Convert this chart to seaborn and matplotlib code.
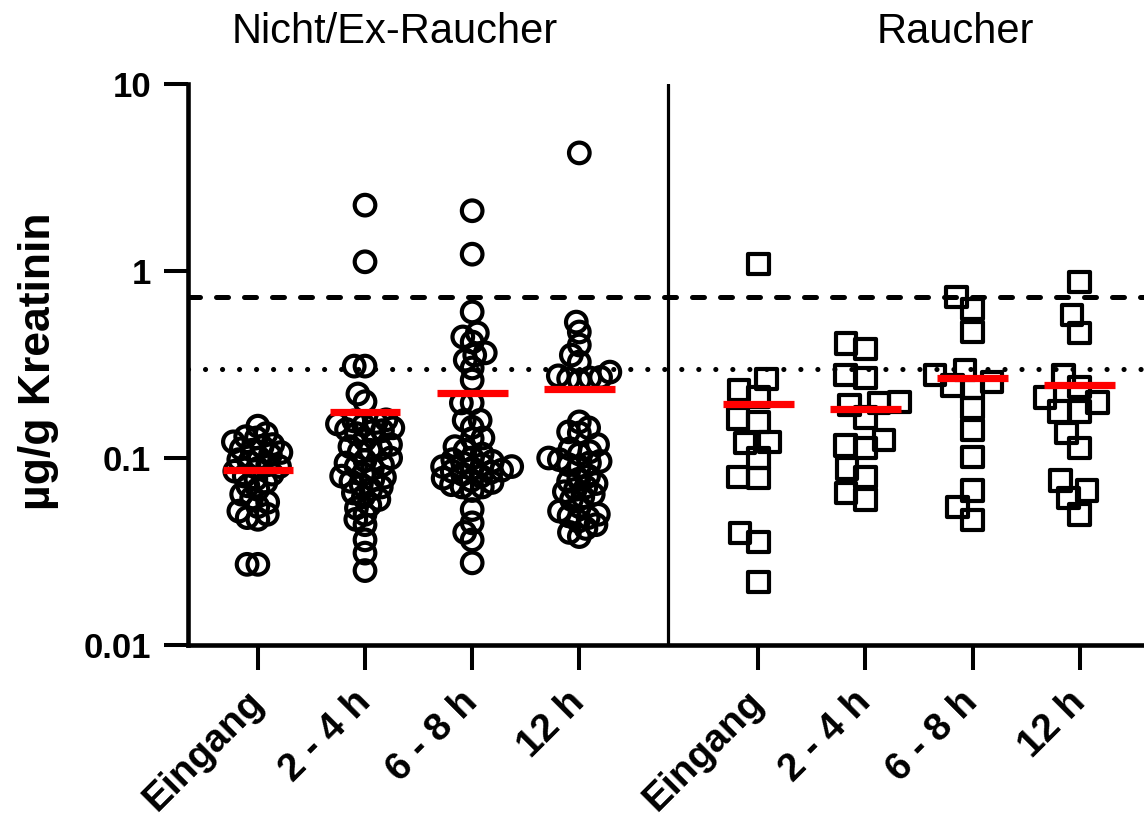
import numpy as np
import pandas as pd
import matplotlib
matplotlib.use("Agg")
import matplotlib.pyplot as plt
from matplotlib.ticker import NullLocator, FixedLocator
import seaborn as sns

# ---------------- data ----------------
times = ["Eingang", "2 - 4 h", "6 - 8 h", "12 h"]
groups = ["Nicht/Ex-Raucher", "Raucher"]

ns_eingang = [0.148, 0.135, 0.13, 0.128, 0.122, 0.118, 0.115, 0.112, 0.11, 0.107,
              0.104, 0.1, 0.098, 0.095, 0.092, 0.09, 0.088, 0.085, 0.082, 0.08,
              0.077, 0.074, 0.071, 0.068, 0.064, 0.061, 0.058, 0.055, 0.052, 0.05,
              0.048, 0.047, 0.027, 0.027]
ns_2_4h = [2.25, 1.12, 0.31, 0.31, 0.22, 0.2,
           0.16, 0.158, 0.155, 0.152, 0.15,
           0.145, 0.142, 0.14, 0.138, 0.135,
           0.125, 0.118, 0.115, 0.112, 0.11, 0.108,
           0.1, 0.097, 0.094, 0.092, 0.09, 0.088,
           0.082, 0.08, 0.079, 0.077, 0.075,
           0.072, 0.07, 0.068, 0.065,
           0.062, 0.06, 0.056, 0.054,
           0.05, 0.047, 0.044,
           0.0365, 0.031, 0.025]
ns_6_8h = [2.1, 1.23, 0.604, 0.466, 0.444, 0.417, 0.365, 0.355, 0.334, 0.303,
           0.261, 0.197, 0.197, 0.159, 0.159, 0.146, 0.128, 0.127,
           0.115, 0.11, 0.105, 0.1, 0.098, 0.096, 0.094, 0.092, 0.09, 0.09,
           0.088, 0.086, 0.085, 0.084, 0.082, 0.08, 0.078, 0.076, 0.074, 0.072, 0.07,
           0.07, 0.067, 0.053, 0.045, 0.04, 0.0365, 0.0275]
ns_12h = [4.28, 0.533, 0.472, 0.402, 0.355, 0.326, 0.288,
          0.275, 0.27, 0.268, 0.265, 0.26,
          0.156, 0.145, 0.138, 0.136,
          0.118, 0.112, 0.108, 0.105, 0.1, 0.098, 0.096, 0.094, 0.092, 0.09,
          0.08, 0.077, 0.075, 0.073, 0.07, 0.068, 0.066, 0.064, 0.062, 0.06,
          0.055, 0.052, 0.05, 0.049, 0.048, 0.046, 0.044, 0.042, 0.04, 0.038]

sm_eingang = [1.09, 0.264, 0.231, 0.212, 0.156, 0.163, 0.122, 0.12, 0.1,
              0.078, 0.079, 0.0397, 0.0356, 0.0217]
sm_2_4h = [0.383, 0.41, 0.268, 0.278, 0.192, 0.165, 0.197, 0.199, 0.125,
           0.113, 0.117, 0.088, 0.079, 0.06, 0.065]
sm_6_8h = [0.726, 0.626, 0.472, 0.296, 0.278, 0.255, 0.245, 0.237, 0.185,
           0.141, 0.101, 0.067, 0.0547, 0.0466]
sm_12h = [0.873, 0.582, 0.466, 0.278, 0.24, 0.21, 0.198, 0.177, 0.177,
          0.136, 0.113, 0.076, 0.067, 0.061, 0.05]

ref_dashed = 0.73
ref_dotted = 0.30

series = {
    "Nicht/Ex-Raucher": [ns_eingang, ns_2_4h, ns_6_8h, ns_12h],
    "Raucher": [sm_eingang, sm_2_4h, sm_6_8h, sm_12h],
}

# ---------------- layout ----------------
group_offset = 4.67
sep_pos = 3.83
W, H = 1144, 819

rows = []
for gi, g in enumerate(groups):
    for ti, t in enumerate(times):
        for v in series[g][ti]:
            rows.append({"group": g, "time": t, "pos": ti + gi * group_offset, "value": v})
df = pd.DataFrame(rows)

sns.set_style("ticks")
plt.rcParams["font.family"] = ["Liberation Sans", "DejaVu Sans"]
for k in ["text.color", "axes.labelcolor", "xtick.color", "ytick.color", "axes.edgecolor"]:
    plt.rcParams[k] = "black"

fig = plt.figure(figsize=(W / 100, H / 100), dpi=100)
ax = fig.add_axes([188 / W, 1 - 645 / H, 1 - 188 / W, (645 - 84) / H])
ax.set_yscale("log")
ax.set_ylim(0.01, 10)
xlim = (-0.652, 8.27)
ax.set_xlim(*xlim)

layout_size = {"Nicht/Ex-Raucher": 7.4, "Raucher": 14}
for g, marker in zip(groups, ["o", "s"]):
    sub = df[df["group"] == g]
    sns.swarmplot(data=sub, x="pos", y="value", native_scale=True, marker=marker,
                  size=layout_size[g], color="black", ax=ax, legend=False, zorder=2)

ax.set_yscale("log")
ax.set_ylim(0.01, 10)
ax.set_xlim(*xlim)

# compute swarm layout with the layout size, then freeze it and enlarge markers
fig.canvas.draw()
for coll in ax.collections:
    if "draw" in coll.__dict__:
        del coll.draw
    coll.set_sizes([220])
    coll.set_facecolor("none")
    coll.set_edgecolor("black")
    coll.set_linewidth(3.0)

# reference lines
ax.axhline(ref_dashed, color="black", lw=3.6, dashes=(2.4, 3.2),
           dash_capstyle="round", zorder=1)
ax.axhline(ref_dotted, color="black", lw=3.7, dashes=(0.01, 3.3),
           dash_capstyle="round", zorder=1)
ax.axvline(sep_pos, color="black", lw=2.3, zorder=1)

# mean lines
means = df.groupby(["group", "pos"])["value"].mean().reset_index()
ax.hlines(means["value"], means["pos"] - 0.33, means["pos"] + 0.33,
          color="#ff0000", lw=5.2, zorder=4)

# axes styling
for s in ["top", "right"]:
    ax.spines[s].set_visible(False)
for s in ["left", "bottom"]:
    ax.spines[s].set_linewidth(3.3)
    ax.spines[s].set_color("black")

ax.yaxis.set_major_locator(FixedLocator([0.01, 0.1, 1, 10]))
ax.yaxis.set_minor_locator(NullLocator())
ax.set_yticklabels(["0.01", "0.1", "1", "10"])
ax.tick_params(axis="y", length=17.5, width=2.9, pad=9, labelsize=25, color="black")

tick_pos = sorted(df["pos"].unique())
ax.set_xticks(tick_pos)
ax.set_xticklabels(times * 2)
ax.xaxis.set_minor_locator(NullLocator())
ax.tick_params(axis="x", length=18, width=2.9, pad=19, labelsize=28, color="black")
for lab in ax.get_xticklabels():
    lab.set_rotation(45)
    lab.set_ha("right")
    lab.set_va("center")
    lab.set_rotation_mode("anchor")
for lab in ax.get_xticklabels() + ax.get_yticklabels():
    lab.set_fontweight("bold")

ax.set_xlabel("")
ax.set_ylabel("µg/g Kreatinin", fontsize=32, fontweight="bold")
ax.yaxis.set_label_coords(-0.135, 0.505)

title_x = [1.277, 6.505]
for g, tx in zip(groups, title_x):
    ax.annotate(g, xy=(tx, H - 43), xycoords=("data", "figure pixels"),
                ha="center", va="baseline", fontsize=30, annotation_clip=False)

fig.savefig("out.png", dpi=100)
